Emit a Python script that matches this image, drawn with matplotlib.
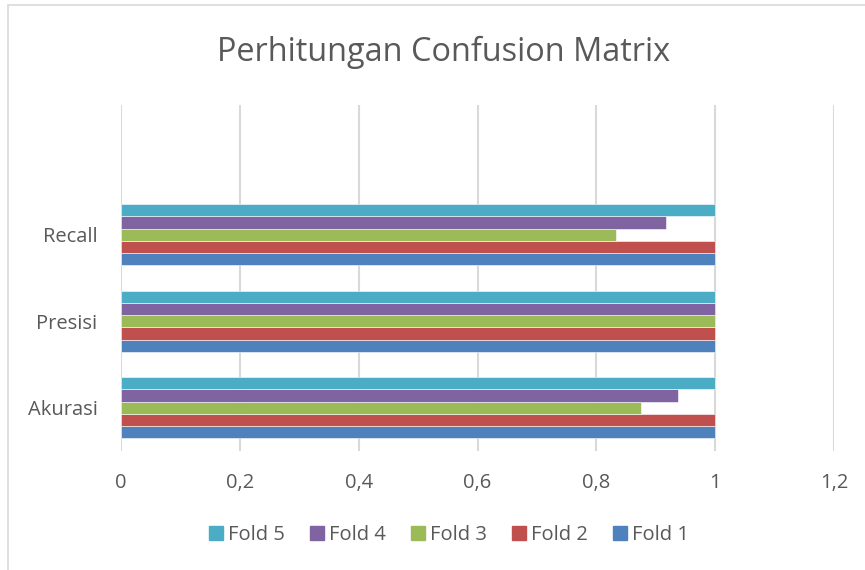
import matplotlib
matplotlib.use("Agg")
import matplotlib.pyplot as plt
from matplotlib.patches import Rectangle
from matplotlib.lines import Line2D
import numpy as np

categories = ["Akurasi", "Presisi", "Recall"]
series_names = ["Fold 1", "Fold 2", "Fold 3", "Fold 4", "Fold 5"]
fold1 = [1.0, 1.0, 1.0]
fold2 = [1.0, 1.0, 1.0]
fold3 = [0.875, 1.0, 0.8333]
fold4 = [0.9375, 1.0, 0.9167]
fold5 = [1.0, 1.0, 1.0]
values = [fold1, fold2, fold3, fold4, fold5]
colors = ["#4F81BD", "#C0504D", "#9BBB59", "#8064A2", "#4BACC6"]
xticks = [0, 0.2, 0.4, 0.6, 0.8, 1.0, 1.2]
xticklabels = ["0", "0,2", "0,4", "0,6", "0,8", "1", "1,2"]
title = "Perhitungan Confusion Matrix"

plt.rcParams['font.family'] = ['Open Sans', 'DejaVu Sans']
text_color = "#595959"

fig = plt.figure(figsize=(8.65, 5.70), dpi=100)
fig.patch.set_facecolor("white")
# outer chart border
fig.add_artist(Rectangle((8 / 865, -0.1), 1.2, 1 - 5 / 570 + 0.1,
                         transform=fig.transFigure, fill=False,
                         edgecolor="#D9D9D9", linewidth=1.2))

ax = fig.add_axes([121 / 865, 1 - 451 / 570, (834 - 121) / 865, (451 - 105) / 570])
ax.set_facecolor("none")

y = np.arange(len(categories))
bar_h = 0.141
n = len(values)
for i, (vals, c, name) in enumerate(zip(values, colors, series_names)):
    offs = (i - (n - 1) / 2) * bar_h
    ax.barh(y + offs, vals, height=bar_h, color=c, edgecolor="#FFFFFF",
            linewidth=0.4, label=name, zorder=3)

ax.set_xlim(0, 1.2)
ax.set_ylim(-0.5, 3.5)
ax.set_xticks(xticks)
ax.set_xticklabels(xticklabels)
ax.set_yticks(y)
ax.set_yticklabels(categories)
ax.tick_params(axis="both", length=0, labelsize=14.5, colors=text_color)
ax.tick_params(axis="x", pad=16)
ax.tick_params(axis="y", pad=17)
for s in ax.spines.values():
    s.set_visible(False)
ax.xaxis.grid(True, color="#D9D9D9", linewidth=1.5, zorder=0)
ax.set_axisbelow(True)

fig.text(444 / 865, 1 - 52 / 570, title, ha="center", va="center",
         fontsize=23.4, color=text_color)

handles = [Line2D([0], [0], marker="s", linestyle="none", markersize=9.4,
                  markerfacecolor=colors[i], markeredgecolor=colors[i])
           for i in range(n - 1, -1, -1)]
labels = [series_names[i] for i in range(n - 1, -1, -1)]
fig.legend(handles, labels, loc="center", bbox_to_anchor=(449 / 865, 1 - 535 / 570),
           ncol=5, frameon=False, fontsize=14.5, handletextpad=0.25,
           columnspacing=1.25, labelcolor=text_color, handlelength=0.7)

fig.savefig("out.png", dpi=100)
